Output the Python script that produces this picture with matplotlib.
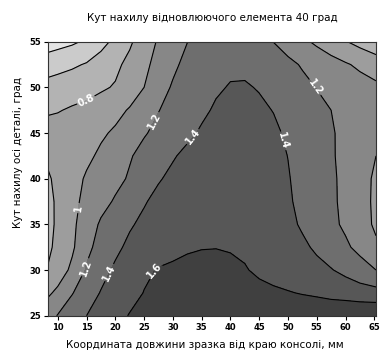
import numpy as np
import matplotlib
matplotlib.use("Agg")
import matplotlib.pyplot as plt

# grid coordinates (x: specimen length coordinate, mm; y: part axis angle, deg)
x_vals = [8.3, 10, 12.5, 15, 17.5, 20, 22.5, 25, 27.5, 30, 32.5, 35, 37.5, 40,
          42.5, 45, 47.5, 50, 52.5, 55, 57.5, 60, 62.5, 65.3]
y_vals = [25, 27.5, 30, 32.5, 35, 37.5, 40, 42.5, 45, 47.5, 50, 52.5, 55]

# values, one row per y value
row_25 = [1.12, 1.21, 1.31, 1.40, 1.47, 1.54, 1.61, 1.65, 1.68, 1.70, 1.71, 1.715,
          1.72, 1.72, 1.72, 1.72, 1.72, 1.72, 1.73, 1.74, 1.75, 1.76, 1.77, 1.78]
row_27_5 = [0.97, 1.04, 1.19, 1.31, 1.41, 1.48, 1.54, 1.605, 1.64, 1.66, 1.67, 1.675,
            1.675, 1.67, 1.655, 1.64, 1.625, 1.61, 1.59, 1.57, 1.54, 1.52, 1.49, 1.47]
row_30 = [0.81, 0.90, 1.04, 1.22, 1.34, 1.43, 1.50, 1.57, 1.61, 1.625, 1.635, 1.64,
          1.64, 1.63, 1.61, 1.575, 1.545, 1.51, 1.48, 1.445, 1.41, 1.35, 1.28, 1.20]
row_32_5 = [0.77, 0.84, 0.97, 1.15, 1.27, 1.36, 1.44, 1.49, 1.53, 1.56, 1.585, 1.595,
            1.597, 1.59, 1.575, 1.55, 1.51, 1.47, 1.43, 1.375, 1.30, 1.23, 1.15, 1.03]
row_35 = [0.75, 0.83, 0.96, 1.10, 1.225, 1.30, 1.38, 1.44, 1.48, 1.515, 1.54, 1.56,
          1.57, 1.57, 1.56, 1.54, 1.50, 1.44, 1.38, 1.31, 1.24, 1.17, 1.08, 0.97]
row_37_5 = [0.76, 0.825, 0.95, 1.05, 1.14, 1.22, 1.30, 1.385, 1.45, 1.49, 1.52, 1.54,
            1.55, 1.55, 1.54, 1.52, 1.47, 1.42, 1.36, 1.30, 1.23, 1.16, 1.08, 0.96]
row_40 = [0.78, 0.84, 0.935, 1.02, 1.09, 1.15, 1.22, 1.30, 1.385, 1.44, 1.48, 1.50,
          1.52, 1.52, 1.51, 1.49, 1.46, 1.41, 1.35, 1.29, 1.23, 1.155, 1.07, 0.97]
row_42_5 = [0.83, 0.865, 0.915, 0.965, 1.03, 1.105, 1.185, 1.255, 1.32, 1.385, 1.44, 1.47,
            1.49, 1.49, 1.49, 1.47, 1.44, 1.398, 1.34, 1.28, 1.22, 1.15, 1.08, 1.00]
row_45 = [0.85, 0.875, 0.91, 0.94, 0.975, 1.025, 1.105, 1.185, 1.245, 1.305, 1.365, 1.42,
          1.45, 1.46, 1.46, 1.45, 1.43, 1.375, 1.32, 1.265, 1.215, 1.16, 1.12, 1.07]
row_47_5 = [0.785, 0.79, 0.82, 0.84, 0.89, 0.95, 1.015, 1.105, 1.195, 1.255, 1.315, 1.37,
            1.42, 1.44, 1.44, 1.43, 1.395, 1.345, 1.295, 1.25, 1.20, 1.15, 1.11, 1.08]
row_50 = [0.667, 0.687, 0.716, 0.746, 0.775, 0.815, 0.907, 1.00, 1.119, 1.22, 1.29, 1.34,
          1.38, 1.41, 1.415, 1.39, 1.345, 1.30, 1.25, 1.195, 1.155, 1.115, 1.08, 1.04]
row_52_5 = [0.513, 0.535, 0.57, 0.615, 0.69, 0.76, 0.85, 0.957, 1.061, 1.163, 1.25, 1.30,
            1.34, 1.37, 1.365, 1.33, 1.29, 1.245, 1.183, 1.128, 1.074, 1.02, 0.964, 0.90]
row_55 = [0.30, 0.33, 0.37, 0.428, 0.534, 0.648, 0.772, 0.90, 1.021, 1.109, 1.197, 1.26,
          1.30, 1.32, 1.31, 1.27, 1.197, 1.117, 1.04, 0.966, 0.888, 0.81, 0.74, 0.67]

levels = [0.2, 0.4, 0.6, 0.8, 1.0, 1.2, 1.4, 1.6, 1.8]
plain_levels = [0.4, 0.6]
label_levels = [0.8, 1.0, 1.2, 1.4, 1.6]

title = "Кут нахилу відновлюючого елемента 40 град"
xlabel = "Координата довжини зразка від краю консолі, мм"
ylabel = "Кут нахилу осі деталі, град"
x_ticks = [10, 15, 20, 25, 30, 35, 40, 45, 50, 55, 60, 65]
y_ticks = [25, 30, 35, 40, 45, 50, 55]

# styling / placement (not data)
fill_colors = ['#e4e4e4', '#cbcbcb', '#b3b3b3', '#9d9d9d', '#878787',
               '#6e6e6e', '#575757', '#404040']
label_spots = [(15.2, 48.1), (26.9, 46.3), (33.5, 44.6), (13.3, 36.8),
               (14.7, 30.3), (18.7, 29.8), (27.2, 29.8), (54.7, 50.0), (49.5, 44.2)]

Z = np.array([row_25, row_27_5, row_30, row_32_5, row_35, row_37_5, row_40,
              row_42_5, row_45, row_47_5, row_50, row_52_5, row_55])
X, Y = np.meshgrid(x_vals, y_vals)

fig = plt.figure(figsize=(3.82, 3.58), dpi=100)
ax = fig.add_axes([48/382, 1-315.7/358, (376-48)/382, (315.7-41.7)/358])

ax.contourf(X, Y, Z, levels=levels, colors=fill_colors)
ax.contour(X, Y, Z, levels=plain_levels, colors='black', linewidths=0.8)
cs = ax.contour(X, Y, Z, levels=label_levels, colors='black', linewidths=0.8)
lbl = ax.clabel(cs, manual=label_spots, inline=True, inline_spacing=2,
                fontsize=7, colors='white', fmt=lambda v: f"{v:g}")
for t in lbl:
    t.set_fontweight('bold')

ax.set_xlim(8.3, 65.3)
ax.set_ylim(25, 55)
ax.set_xticks(x_ticks)
ax.set_yticks(y_ticks)
ax.tick_params(direction='out', length=3, width=0.8, labelsize=6, pad=2)
for lab in ax.get_xticklabels() + ax.get_yticklabels():
    lab.set_fontweight('bold')
for s in ax.spines.values():
    s.set_linewidth(0.8)
    s.set_color('#333333')

fig.text(212/382, 1-18/358, title, ha='center', va='center', fontsize=7.5)
fig.text(205/382, 1-345/358, xlabel, ha='center', va='center', fontsize=7.5)
fig.text(18/382, 1-152/358, ylabel, ha='center', va='center', fontsize=7.5,
         rotation=90)

fig.savefig("out.png", dpi=100)
